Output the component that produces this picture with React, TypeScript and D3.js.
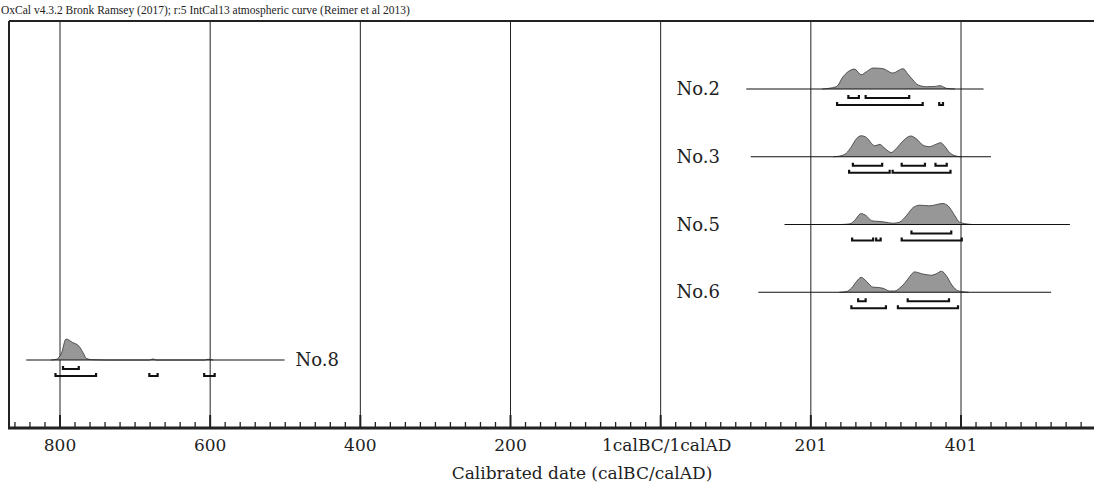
import React from "react";
import * as d3 from "d3";

// ---------- data (years: BC negative, AD positive, 0 = 1calBC/1calAD) ----------
const title = "OxCal v4.3.2 Bronk Ramsey (2017); r:5 IntCal13 atmospheric curve (Reimer et al 2013)";
const axisTitle = "Calibrated date (calBC/calAD)";
const tickValues = [-800, -600, -400, -200, 0, 200, 400];
const tickLabels = ["800", "600", "400", "200", "1calBC/1calAD", "201", "401"];

const samples = ["No.2", "No.3", "No.5", "No.6", "No.8"];

const no2Line = [114, 430];
const no2Years = [215, 234, 243, 252, 258, 267, 274, 283, 296, 309, 323, 329, 336, 343, 354, 365, 372, 381, 392];
const no2Prob = [0, 0.11, 0.59, 0.88, 0.95, 0.68, 0.82, 1.0, 0.97, 0.76, 0.97, 0.72, 0.43, 0.19, 0.11, 0.12, 0.16, 0.03, 0];
const no2Range68 = [[250, 264], [273, 331]];
const no2Range95 = [[235, 349], [371, 376]];

const no3Line = [120, 440];
const no3Years = [230, 238, 247, 254, 261, 267, 274, 281, 285, 292, 296, 303, 307, 314, 323, 333, 341, 349, 358, 367, 373, 378, 385, 394, 400];
const no3Prob = [0, 0.03, 0.16, 0.48, 0.87, 1.0, 0.92, 0.63, 0.52, 0.59, 0.48, 0.27, 0.2, 0.4, 0.76, 0.99, 0.84, 0.56, 0.48, 0.6, 0.67, 0.51, 0.19, 0.03, 0];
const no3Range68 = [[256, 295], [321, 352], [366, 381]];
const no3Range95 = [[251, 305], [309, 386]];

const no5Line = [165, 545];
const no5Years = [240, 252, 258, 267, 274, 281, 289, 298, 309, 318, 327, 336, 345, 358, 376, 383, 392, 398, 407, 415];
const no5Prob = [0, 0.03, 0.18, 0.52, 0.41, 0.18, 0.15, 0.12, 0.06, 0.11, 0.41, 0.8, 0.92, 0.89, 1.0, 0.88, 0.41, 0.11, 0.03, 0];
const no5Range68 = [[334, 387]];
const no5Range95 = [[255, 283], [287, 293], [321, 401]];

const no6Line = [130, 520];
const no6Years = [238, 247, 254, 261, 267, 274, 283, 289, 296, 305, 312, 318, 325, 332, 338, 349, 361, 367, 374, 381, 387, 394, 401, 410];
const no6Prob = [0, 0.03, 0.19, 0.52, 0.71, 0.52, 0.24, 0.23, 0.19, 0.06, 0.06, 0.19, 0.43, 0.76, 0.97, 0.87, 0.81, 0.88, 1.0, 0.76, 0.39, 0.11, 0.03, 0];
const no6Range68 = [[263, 273], [329, 384]];
const no6Range95 = [[254, 300], [316, 396]];

const no8Line = [-845, -501];
const no8Years = [-812, -805, -798, -792, -783, -775, -769, -765, -758, -738, -690, -681, -676, -672, -615, -607, -603, -596];
const no8Prob = [0, 0.03, 0.33, 1.0, 0.83, 0.67, 0.33, 0.08, 0.015, 0, 0, 0, 0.05, 0, 0, 0, 0.035, 0];
const no8Range68 = [[-796, -775]];
const no8Range95 = [[-806, -752], [-681, -670], [-608, -594]];

const lines = [no2Line, no3Line, no5Line, no6Line, no8Line];
const yearsList = [no2Years, no3Years, no5Years, no6Years, no8Years];
const probList = [no2Prob, no3Prob, no5Prob, no6Prob, no8Prob];
const ranges68 = [no2Range68, no3Range68, no5Range68, no6Range68, no8Range68];
const ranges95 = [no2Range95, no3Range95, no5Range95, no6Range95, no8Range95];

// ---------- layout ----------
const W = 1094;
const H = 488;
const frameLeft = 9;
const frameTop = 21;
const axisY = 428;
const FONT = "'DejaVu Serif', serif";
const TITLE_FONT = "'Liberation Serif', serif";

export default function App() {
  const x = d3.scaleLinear().domain([-800, 400]).range([60, 961]);
  const y = d3.scalePoint<string>().domain(samples).range([89, 360]);
  const h = d3.scaleLinear().domain([0, 1]).range([0, 21]);

  const minorTicks = d3.range(-860, 577, 20).filter((v) => !tickValues.includes(v));

  const bracket = (a: number, b: number, top: number, bot: number) =>
    `M${x(a)},${top}V${bot}H${x(b)}V${top}`;

  return (
    <div style={{ position: "absolute", left: 0, top: 0 }}>
      <svg width={W} height={H} style={{ display: "block", background: "#fff" }}>
        <text x={1} y={14} fontFamily={TITLE_FONT} fontSize={11.5} fill="#222">
          {title}
        </text>
        {/* frame */}
        <line x1={frameLeft} x2={W} y1={frameTop} y2={frameTop} stroke="#222" strokeWidth={2} />
        <line x1={frameLeft} x2={frameLeft} y1={frameTop} y2={axisY} stroke="#222" strokeWidth={2} />
        {/* grid lines */}
        {tickValues.map((v) => (
          <line key={"g" + v} x1={x(v)} x2={x(v)} y1={frameTop} y2={axisY} stroke="#222" strokeWidth={1} />
        ))}
        {/* samples */}
        {samples.map((s, i) => {
          const y0 = y(s) as number;
          const pts = yearsList[i].map((yr, j) => [yr, probList[i][j]] as [number, number]);
          const area = d3
            .area<[number, number]>()
            .x((d) => x(d[0]))
            .y0(y0)
            .y1((d) => y0 - h(d[1]))
            .curve(d3.curveMonotoneX);
          const top = d3
            .line<[number, number]>()
            .x((d) => x(d[0]))
            .y((d) => y0 - h(d[1]))
            .curve(d3.curveMonotoneX);
          const ln = lines[i];
          const isBC = ln[1] < 0;
          return (
            <g key={s}>
              <path d={area(pts) || ""} fill="#979797" />
              <path d={top(pts) || ""} fill="none" stroke="#333" strokeWidth={0.8} />
              <line x1={x(ln[0])} x2={x(ln[1])} y1={y0} y2={y0} stroke="#111" strokeWidth={1.2} />
              {ranges68[i].map((r, k) => (
                <path key={"a" + k} d={bracket(r[0], r[1], y0 + 6, y0 + 9)} fill="none" stroke="#111" strokeWidth={2.2} />
              ))}
              {ranges95[i].map((r, k) => (
                <path key={"b" + k} d={bracket(r[0], r[1], y0 + 13, y0 + 16)} fill="none" stroke="#111" strokeWidth={2.2} />
              ))}
              <text
                x={isBC ? x(ln[1]) + 11 : x(79)}
                y={y0 + 6}
                textAnchor={isBC ? "start" : "end"}
                fontFamily={FONT}
                fontSize={18}
                fill="#222"
              >
                {s}
              </text>
            </g>
          );
        })}
        {/* axis */}
        <line x1={frameLeft - 1} x2={W} y1={axisY} y2={axisY} stroke="#222" strokeWidth={3} />
        {minorTicks.map((v) => (
          <line key={"m" + v} x1={x(v)} x2={x(v)} y1={axisY - 6} y2={axisY} stroke="#222" strokeWidth={1.3} />
        ))}
        {tickValues.map((v) => (
          <line key={"M" + v} x1={x(v)} x2={x(v)} y1={axisY - 13} y2={axisY} stroke="#222" strokeWidth={2} />
        ))}
        {tickValues.map((v, i) => (
          <text key={"t" + v} x={x(v) + (v === 0 ? 6 : 0)} y={451} textAnchor="middle" fontFamily={FONT} fontSize={17} fill="#222">
            {tickLabels[i]}
          </text>
        ))}
        <text x={582} y={479} textAnchor="middle" fontFamily={FONT} fontSize={17} fill="#222">
          {axisTitle}
        </text>
      </svg>
    </div>
  );
}
